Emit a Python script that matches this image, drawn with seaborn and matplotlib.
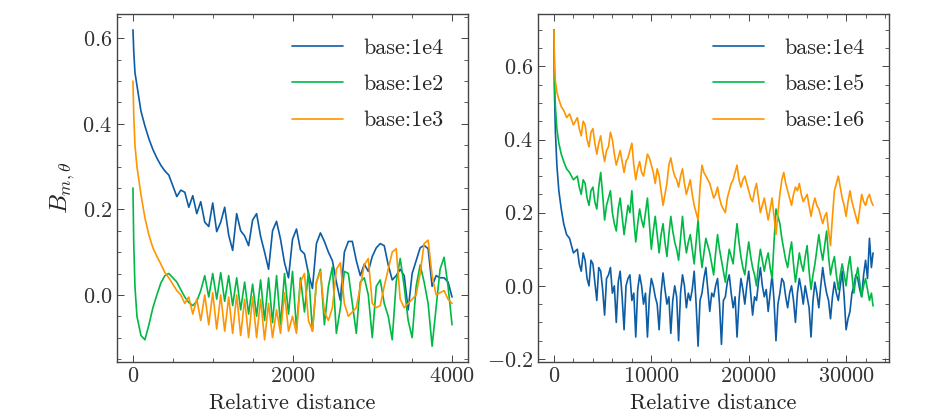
import numpy as np
import pandas as pd
import matplotlib
matplotlib.use("Agg")
import matplotlib.pyplot as plt
from matplotlib.ticker import MultipleLocator
import seaborn as sns

# ---- left panel: 0..4000 ----
left_x = np.r_[[0, 10, 25], np.arange(50, 4001, 50)]
left_1e4 = [0.62, 0.57, 0.52, 0.49, 0.43, 0.395, 0.365, 0.34, 0.32, 0.303, 0.29, 0.28,
            0.255, 0.23, 0.245, 0.24, 0.205, 0.232, 0.19, 0.218, 0.17, 0.16, 0.215, 0.148,
            0.17, 0.205, 0.14, 0.104, 0.19, 0.15, 0.138, 0.115, 0.175, 0.19, 0.137, 0.1,
            0.06, 0.15, 0.172, 0.13, 0.075, 0.04, 0.13, 0.154, 0.105, 0.096, 0.05, 0.015,
            0.12, 0.145, 0.125, 0.1, 0.08, 0.03, -0.013, 0.1, 0.125, 0.125, 0.08, 0.045,
            0.072, 0.055, 0.09, 0.11, 0.12, 0.115, 0.07, 0.035, 0.045, 0.06, 0.045, -0.035,
            0.05, 0.08, 0.11, 0.116, 0.108, 0.02, 0.045, 0.04, 0.04, 0.03, -0.005]
left_1e2 = [0.25, 0.12, 0.02, -0.05, -0.095, -0.105, -0.07, -0.03, 0.0, 0.028, 0.045, 0.05,
            0.04, 0.03, 0.012, -0.005, -0.018, -0.025, -0.015, 0.01, 0.045, -0.005, 0.05, -0.01,
            0.052, -0.015, 0.045, -0.025, 0.04, -0.035, 0.03, -0.045, 0.025, -0.05, 0.035, -0.06,
            0.04, -0.065, 0.045, -0.07, 0.05, -0.045, 0.055, -0.08, 0.04, -0.04, 0.055, -0.085,
            0.03, 0.06, -0.07, 0.02, 0.065, -0.09, -0.03, 0.055, 0.05, -0.02, -0.09, 0.03,
            0.04, 0.0, -0.1, 0.02, 0.035, -0.02, -0.05, -0.105, 0.03, 0.085, 0.02, -0.06,
            -0.1, 0.02, 0.07, 0.03, -0.02, -0.12, -0.03, 0.06, 0.088, 0.02, -0.07]
left_1e3 = [0.50, 0.42, 0.35, 0.30, 0.235, 0.18, 0.14, 0.11, 0.09, 0.072, 0.052, 0.04,
            0.025, 0.01, 0.0, -0.02, -0.005, -0.045, -0.01, -0.06, 0.0, -0.07, 0.005, -0.08,
            0.0, -0.085, -0.005, -0.09, 0.0, -0.095, -0.01, -0.1, -0.005, -0.1, -0.01, -0.105,
            -0.02, -0.1, -0.035, -0.09, 0.005, -0.085, -0.05, -0.09, 0.03, 0.05, -0.06, -0.085,
            0.03, 0.055, -0.04, -0.06, -0.03, 0.06, 0.075, -0.02, -0.05, -0.04, -0.03, 0.02,
            0.07, 0.085, -0.02, -0.03, -0.025, 0.02, 0.06, 0.1, 0.108, -0.01, -0.03, -0.02,
            -0.01, 0.0, 0.05, 0.12, 0.128, 0.045, 0.0, 0.005, 0.01, -0.01, -0.02]
left_labels = ["base:1e4", "base:1e2", "base:1e3"]

# ---- right panel: 0..32768 ----
right_x = np.r_[[0, 60, 150, 300, 500, 750, 1000, 1300, 1600, 2000],
                np.arange(2400, 32601, 200), [32768]]
right_1e4 = [0.70, 0.52, 0.42, 0.33, 0.26, 0.21, 0.17, 0.14, 0.13, 0.09,
             0.10, 0.06, 0.04, 0.09, 0.07, 0.02, 0.0, 0.07, 0.06, 0.01,
             -0.04, 0.05, 0.04, -0.01, -0.08, 0.02, 0.03, 0.05, -0.02, 0.0,
             -0.10, 0.01, 0.04, -0.03, -0.12, 0.0, 0.02, 0.03, -0.04, -0.02,
             -0.14, -0.01, 0.03, 0.0, -0.05, -0.02, -0.14, -0.03, 0.02, 0.0,
             -0.03, -0.05, -0.12, -0.02, 0.035, -0.01, -0.05, -0.03, -0.13, -0.04,
             0.0, -0.03, -0.15, -0.02, 0.03, 0.0, -0.06, -0.02, -0.04, -0.01,
             0.04, -0.05, -0.165, -0.04, -0.02, 0.02, 0.05, -0.01, -0.07, -0.02,
             -0.03, 0.0, 0.02, -0.05, -0.16, -0.04, -0.03, 0.01, 0.03, -0.02,
             -0.06, -0.03, -0.14, -0.04, 0.02, -0.01, -0.05, 0.0, 0.04, -0.02,
             -0.08, -0.03, -0.04, 0.01, 0.05, 0.0, -0.03, -0.01, -0.07, -0.02,
             0.03, -0.04, -0.15, -0.05, -0.02, 0.02, 0.01, -0.03, -0.06, -0.02,
             0.0, -0.04, -0.1, -0.02, 0.02, -0.01, -0.05, 0.0, -0.03, -0.06,
             -0.14, -0.04, 0.01, -0.02, -0.06, 0.0, 0.05, 0.01, -0.02, -0.04,
             -0.09, -0.03, 0.01, -0.02, -0.04, 0.0, 0.04, -0.03, -0.12, -0.09,
             -0.07, -0.02, 0.0, 0.03, 0.02, -0.01, -0.03, 0.03, 0.07, 0.02,
             0.13, 0.05, 0.09]
right_1e5 = [0.70, 0.55, 0.49, 0.43, 0.39, 0.36, 0.34, 0.32, 0.31, 0.29,
             0.30, 0.27, 0.25, 0.29, 0.28, 0.24, 0.22, 0.26, 0.27, 0.23,
             0.21, 0.27, 0.31, 0.25, 0.18, 0.22, 0.24, 0.26, 0.20, 0.17,
             0.15, 0.21, 0.24, 0.19, 0.14, 0.18, 0.22, 0.20, 0.26, 0.18,
             0.12, 0.17, 0.21, 0.18, 0.16, 0.20, 0.24, 0.17, 0.10, 0.15,
             0.19, 0.14, 0.09, 0.14, 0.17, 0.12, 0.08, 0.14, 0.19, 0.15,
             0.12, 0.10, 0.07, 0.13, 0.19, 0.13, 0.09, 0.12, 0.14, 0.10,
             0.06, 0.12, 0.18, 0.10, 0.05, 0.09, 0.13, 0.11, 0.09, 0.06,
             0.03, 0.09, 0.14, 0.10, 0.07, 0.04, 0.01, 0.06, 0.10, 0.08,
             0.06, 0.12, 0.17, 0.12, 0.08, 0.05, 0.03, 0.08, 0.12, 0.08,
             0.05, 0.03, 0.00, 0.06, 0.10, 0.07, 0.04, 0.07, 0.09, 0.05,
             0.02, 0.12, 0.21, 0.19, 0.17, 0.13, 0.10, 0.07, 0.05, 0.09,
             0.12, 0.06, 0.01, 0.05, 0.09, 0.06, 0.04, 0.08, 0.11, 0.04,
             -0.01, 0.03, 0.06, 0.10, 0.14, 0.10, 0.07, 0.11, 0.15, 0.08,
             0.03, 0.06, 0.08, 0.03, -0.01, 0.03, 0.06, 0.03, 0.00, 0.05,
             0.08, 0.03, -0.02, 0.02, 0.05, 0.01, -0.03, 0.00, 0.02, -0.01,
             -0.04, -0.02, -0.055]
right_1e6 = [0.70, 0.60, 0.56, 0.53, 0.51, 0.49, 0.48, 0.46, 0.47, 0.44,
             0.46, 0.43, 0.41, 0.45, 0.44, 0.40, 0.38, 0.42, 0.43, 0.39,
             0.36, 0.39, 0.41, 0.37, 0.34, 0.37, 0.38, 0.42, 0.40, 0.36,
             0.33, 0.35, 0.37, 0.34, 0.31, 0.34, 0.35, 0.37, 0.39, 0.33,
             0.29, 0.32, 0.34, 0.31, 0.30, 0.33, 0.36, 0.35, 0.33, 0.31,
             0.28, 0.32, 0.30, 0.26, 0.22, 0.25, 0.28, 0.33, 0.35, 0.32,
             0.30, 0.29, 0.27, 0.30, 0.32, 0.28, 0.25, 0.27, 0.29, 0.25,
             0.22, 0.20, 0.18, 0.27, 0.33, 0.31, 0.30, 0.29, 0.28, 0.26,
             0.24, 0.25, 0.27, 0.24, 0.22, 0.21, 0.20, 0.24, 0.26, 0.28,
             0.29, 0.31, 0.33, 0.29, 0.27, 0.29, 0.30, 0.28, 0.26, 0.24,
             0.23, 0.26, 0.28, 0.24, 0.20, 0.22, 0.24, 0.21, 0.18, 0.21,
             0.24, 0.19, 0.14, 0.20, 0.25, 0.29, 0.31, 0.28, 0.26, 0.24,
             0.22, 0.25, 0.27, 0.26, 0.28, 0.25, 0.23, 0.24, 0.25, 0.22,
             0.19, 0.22, 0.24, 0.22, 0.21, 0.19, 0.17, 0.19, 0.20, 0.15,
             0.11, 0.19, 0.26, 0.28, 0.30, 0.27, 0.24, 0.22, 0.19, 0.23,
             0.26, 0.23, 0.21, 0.19, 0.17, 0.21, 0.25, 0.23, 0.22, 0.24,
             0.25, 0.23, 0.22]
right_labels = ["base:1e4", "base:1e5", "base:1e6"]

colors = ["#0C5DA5", "#00B945", "#FF9500"]


def long_df(x, series, labels):
    frames = []
    for vals, lab in zip(series, labels):
        assert len(vals) == len(x), (lab, len(vals), len(x))
        frames.append(pd.DataFrame({"x": x, "y": vals, "base": lab}))
    return pd.concat(frames, ignore_index=True)


df_left = long_df(left_x, [left_1e4, left_1e2, left_1e3], left_labels)
df_right = long_df(right_x, [right_1e4, right_1e5, right_1e6], right_labels)

sns.set_style("ticks")
plt.rcParams.update({
    "font.family": ["cmr10", "DejaVu Serif"],
    "mathtext.fontset": "cm",
    "axes.formatter.use_mathtext": True,
    "font.size": 16,
    "axes.linewidth": 1.0,
    "axes.edgecolor": "#444444",
    "xtick.direction": "in",
    "ytick.direction": "in",
    "xtick.top": True,
    "ytick.right": True,
    "xtick.major.size": 5,
    "ytick.major.size": 5,
    "xtick.minor.size": 3,
    "ytick.minor.size": 3,
    "xtick.major.width": 0.7,
    "ytick.major.width": 0.7,
    "xtick.minor.width": 0.6,
    "ytick.minor.width": 0.6,
    "xtick.minor.visible": True,
    "ytick.minor.visible": True,
})

fig = plt.figure(figsize=(9.41, 4.2), dpi=100)
ax1 = fig.add_axes([117 / 941, 58 / 420, 351 / 941, 348 / 420])
ax2 = fig.add_axes([538 / 941, 58 / 420, 351 / 941, 348 / 420])

for ax, df, labels, xmaj, xmin in [(ax1, df_left, left_labels, 2000, 500),
                                    (ax2, df_right, right_labels, 10000, 2000)]:
    sns.lineplot(data=df, x="x", y="y", hue="base", hue_order=labels,
                 palette=colors, estimator=None, linewidth=1.2, ax=ax)
    ax.xaxis.set_major_locator(MultipleLocator(xmaj))
    ax.xaxis.set_minor_locator(MultipleLocator(xmin))
    ax.yaxis.set_major_locator(MultipleLocator(0.2))
    ax.yaxis.set_minor_locator(MultipleLocator(0.05))
    ax.set_xlabel("Relative distance", labelpad=5)
    ax.set_ylabel("")
    ax.tick_params(which="both", colors="#444444", labelcolor="#333333")
    ax.legend(loc="upper right", frameon=False, handlelength=2.3,
              handletextpad=0.9, labelspacing=0.75, borderaxespad=0.7)

ax1.set_ylabel(r"$B_{m,\theta}$", fontsize=18)

fig.savefig("out.png", dpi=100)
